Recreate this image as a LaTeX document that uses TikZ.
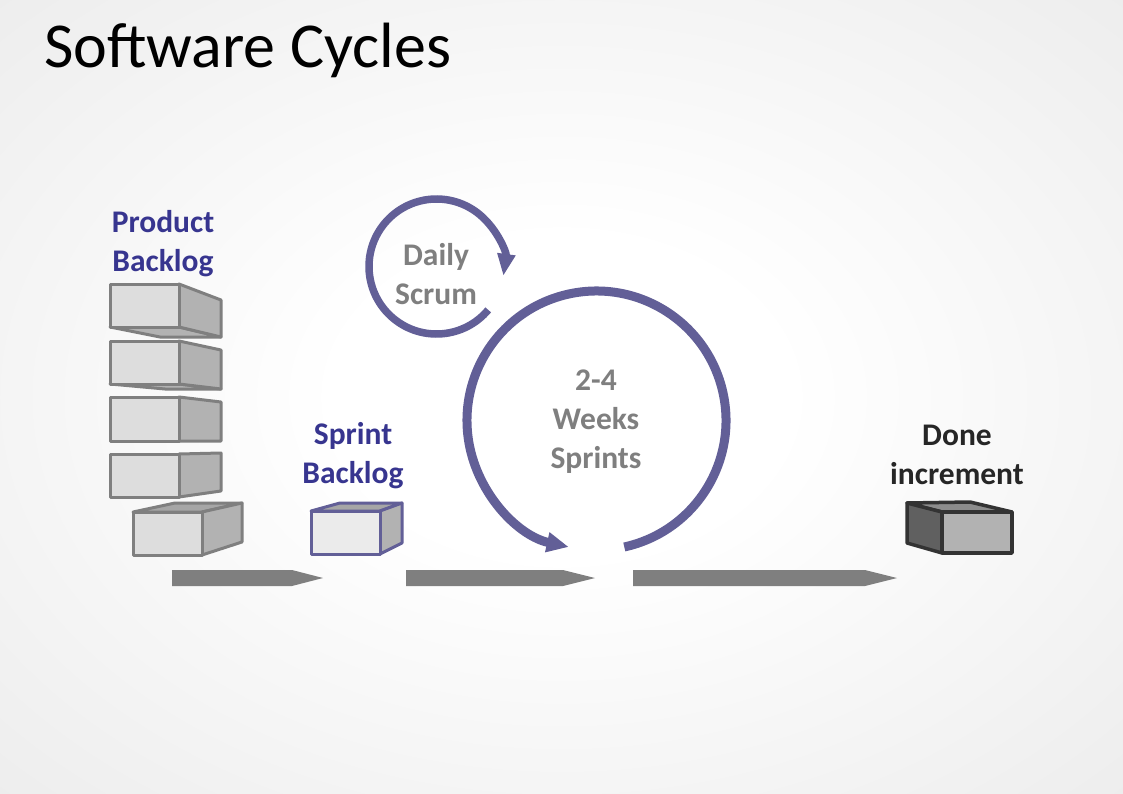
\documentclass[tikz,border=0pt]{standalone}
\usepackage{fontspec}
\setmainfont{Carlito}
\usetikzlibrary{arrows.meta}
\definecolor{cyc}{HTML}{625F97}
\definecolor{lbl}{HTML}{37358F}
\definecolor{txtgray}{HTML}{7F7F7F}
\definecolor{donetxt}{HTML}{262626}
\definecolor{boxline}{HTML}{7F7F7F}
\definecolor{boxfront}{HTML}{DDDDDD}
\definecolor{boxside}{HTML}{B2B2B2}
\definecolor{boxtop}{HTML}{A6A6A6}
\definecolor{donedark}{HTML}{333333}
\definecolor{doneleft}{HTML}{606060}
\definecolor{donetop}{HTML}{8C8C8C}
\definecolor{bgout}{HTML}{E3E3E3}
\definecolor{flowgray}{HTML}{7F7F7F}
\pgfdeclareradialshading{bgshade}{\pgfpoint{0bp}{0bp}}{color(0bp)=(white); color(10bp)=(white); color(50bp)=(bgout)}
\begin{document}
\begin{tikzpicture}[x=1pt,y=-1pt,
  lab/.style={font=\fontsize{31.5}{39}\selectfont\bfseries, align=center},
  pbox/.style={draw=boxline, line width=3pt, line join=round},
  sbox/.style={draw=cyc, line width=3pt, line join=round},
  dbox/.style={draw=donedark, line width=3.5pt, line join=round},
  flow/.style={fill=flowgray, draw=none},
  cycle arrow/.style={draw=cyc, line cap=butt}
]
\shade[shading=bgshade] (0,0) rectangle (1123,794);
\useasboundingbox (0,0) rectangle (1123,794);

% title
\node[anchor=base west, inner sep=0pt, font=\fontsize{64}{76}\selectfont] (title) at (44,68) {Software Cycles};

% labels
\node[lab, text=lbl] (pblab) at (163,244) {Product\\Backlog};
\node[lab, text=lbl] (sblab) at (353,456) {Sprint\\Backlog};
\node[lab, text=txtgray] (dslab) at (436,274) {Daily\\Scrum};
\node[lab, text=txtgray] (wslab) at (596,422) {2-4\\Weeks\\Sprints};
\node[lab, text=donetxt] (dilab) at (957,455) {Done\\increment};

% product backlog stack
% box 1
\filldraw[pbox, fill=boxside] (110,327) -- (179,327) -- (221,337) -- (160,337) -- cycle;
\filldraw[pbox, fill=boxside] (179,284) -- (221,300) -- (221,337) -- (179,327) -- cycle;
\filldraw[pbox, fill=boxfront] (110,284) rectangle (179,327);
% box 2
\filldraw[pbox, fill=boxside] (110,384) -- (179,384) -- (221,389) -- (165,389) -- cycle;
\filldraw[pbox, fill=boxside] (179,341) -- (221,350) -- (221,389) -- (179,384) -- cycle;
\filldraw[pbox, fill=boxfront] (110,341) rectangle (179,384);
% box 3
\filldraw[pbox, fill=boxside] (179,397) -- (221,402) -- (221,441) -- (179,441) -- cycle;
\filldraw[pbox, fill=boxfront] (110,397) rectangle (179,441);
% box 4
\filldraw[pbox, fill=boxside] (179,454) -- (221,453) -- (221,491) -- (179,497) -- cycle;
\filldraw[pbox, fill=boxfront] (110,454) rectangle (179,497);
% box 5
\filldraw[pbox, fill=boxtop] (133,512) -- (175,503) -- (242,503) -- (202,512) -- cycle;
\filldraw[pbox, fill=boxside] (202,512) -- (242,503) -- (242,542) -- (202,555) -- cycle;
\filldraw[pbox, fill=boxfront] (133,512) rectangle (202,555);

% sprint backlog box
\filldraw[sbox, fill=boxtop] (311,511) -- (340,503) -- (402,503) -- (380,511) -- cycle;
\filldraw[sbox, fill=boxside] (380,511) -- (402,503) -- (402,543) -- (380,554) -- cycle;
\filldraw[sbox, fill=boxfront!60!white] (311,511) rectangle (380,554);

% done increment box
\filldraw[dbox, fill=donetop] (907,503) -- (970,502) -- (1012,512) -- (942,512) -- cycle;
\filldraw[dbox, fill=doneleft] (907,503) -- (942,512) -- (942,553) -- (907,543) -- cycle;
\filldraw[dbox, fill=boxside] (942,512) rectangle (1012,553);

% flow arrows
\fill[flow] (172,570) -- (292,570) -- (323,578) -- (292,586) -- (172,586) -- cycle;
\fill[flow] (406,570) -- (563,570) -- (595,578) -- (563,586) -- (406,586) -- cycle;
\fill[flow] (633,570) -- (865,570) -- (897,578) -- (865,586) -- (633,586) -- cycle;

% sprint cycle
\coordinate (bigc) at (596.5,420.5);
\draw[cycle arrow, line width=9pt, -{Triangle[length=22pt,width=19pt]}]
  (bigc) ++(77.6:129.5) arc[start angle=77.6, end angle=-257.6, radius=129.5];
% daily scrum cycle
\coordinate (smallc) at (436.5,266.5);
\draw[cycle arrow, line width=7.5pt, -{Triangle[length=22pt,width=17pt]}]
  (smallc) ++(40:67.5) arc[start angle=40, end angle=368, radius=67.5];
\end{tikzpicture}
\end{document}
